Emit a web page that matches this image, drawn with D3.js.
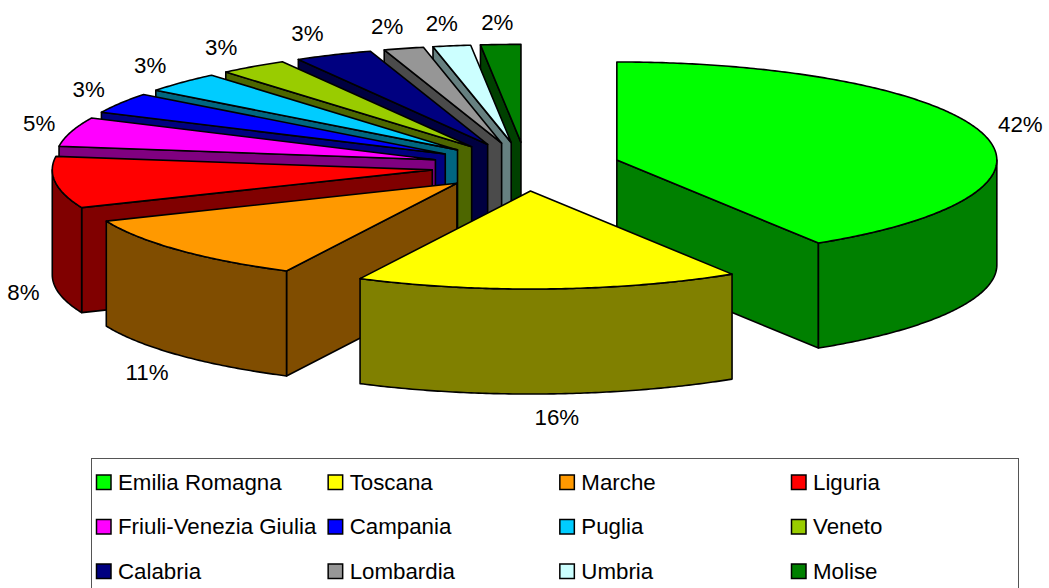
<!DOCTYPE html>
<html>
<head>
<meta charset="utf-8">
<script src="https://cdn.jsdelivr.net/npm/d3@7"></script>
<style>
html,body{margin:0;padding:0;background:#fff;overflow:hidden}
svg{display:block}
text{font-family:"Liberation Sans",Arial,sans-serif;fill:#000}
</style>
</head>
<body>
<svg id="chart" width="1049" height="588"></svg>
<script>
const regions = ["Emilia Romagna","Toscana","Marche","Liguria","Friuli-Venezia Giulia","Campania","Puglia","Veneto","Calabria","Lombardia","Umbria","Molise"];
const shares = [41.1,16.3,11.3,8.5,4.8,3.4,3.4,2.9,3.3,1.7,1.6,1.7];
const shareLabels = ["42%","16%","11%","8%","5%","3%","3%","3%","3%","2%","2%","2%"];
const topColors = ["#00ff00","#ffff00","#ff9900","#ff0000","#ff00ff","#0000ff","#00ccff","#99cc00","#000080","#969696","#ccffff","#008000"];

const W = 1049, H = 588;
const cx = 526, cy = 166.7, radiusX = 380, radiusY = 98, depth = 105, explode = 0.2487;
const svg = d3.select("#chart");
const sx = d3.scaleLinear().domain([-1,1]).range([cx-radiusX, cx+radiusX]);
const sy = d3.scaleLinear().domain([-1,1]).range([cy-radiusY, cy+radiusY]);
const line = d3.line();

const arcs = d3.pie().sort(null).value(d=>d)(shares).map((p,i)=>{
  const mid = (p.startAngle+p.endAngle)/2;
  const ax = explode*Math.sin(mid), ay = -explode*Math.cos(mid);
  return {i, a0:p.startAngle, a1:p.endAngle, mid, ax, ay};
});
const pt = (s,a,dz=0)=>[sx(s.ax+Math.sin(a)), sy(s.ay-Math.cos(a))+dz];
const apex = (s,dz=0)=>[sx(s.ax), sy(s.ay)+dz];
const arcPts = (s,a0,a1,dz=0)=>{
  const n = Math.max(2,Math.ceil((a1-a0)/0.01));
  return d3.range(n+1).map(k=>pt(s,a0+(a1-a0)*k/n,dz));
};
const dark = c=>{const r=d3.rgb(c);return d3.rgb(r.r/2,r.g/2,r.b/2).formatHex();};

const pieG = svg.append("g").attr("stroke","#000").attr("stroke-width",1.6).attr("stroke-linejoin","round");
const order = arcs.slice().sort((p,q)=>Math.cos(q.mid)-Math.cos(p.mid));
order.forEach(s=>{
  const wall = dark(topColors[s.i]);
  const radial = a=>{
    pieG.append("path").attr("fill",wall)
      .attr("d",line([apex(s),pt(s,a),pt(s,a,depth),apex(s,depth)])+"Z");
  };
  if(Math.sin(s.a0)<0) radial(s.a0);
  if(Math.sin(s.a1)>0) radial(s.a1);
  const o0 = Math.max(s.a0,Math.PI/2), o1 = Math.min(s.a1,Math.PI*1.5);
  if(o1>o0){
    const pts = arcPts(s,o0,o1).concat(arcPts(s,o0,o1,depth).reverse());
    pieG.append("path").attr("fill",wall).attr("d",line(pts)+"Z");
  }
  pieG.append("path").attr("fill",topColors[s.i])
    .attr("d",line([apex(s)].concat(arcPts(s,s.a0,s.a1)))+"Z");
});

const labelG = svg.append("g").attr("font-size",22.3).attr("text-anchor","middle");
arcs.forEach(s=>{
  const p = pt(s,s.mid,Math.cos(s.mid)<0?depth:0);
  const sn = Math.sin(s.mid), cs = Math.cos(s.mid);
  const dx = sn>0 ? 39*Math.sqrt(sn) : -Math.min(32,64*Math.abs(sn));
  const y = p[1]-23*Math.sign(cs)*Math.pow(Math.abs(cs),0.75);
  labelG.append("text").attr("x",p[0]+dx).attr("y",y+8).text(shareLabels[s.i]);
});

// legend
const legendLeft = 91.5, legendRight = 1018.5, legendTop = 458.5;
svg.append("rect").attr("x",legendLeft).attr("y",legendTop)
  .attr("width",legendRight-legendLeft).attr("height",H+20-legendTop)
  .attr("fill","none").attr("stroke","#555").attr("stroke-width",1);
const colX = d3.scaleLinear().domain([0,3]).range([96.5,791.5]);
const rowY = d3.scaleLinear().domain([0,2]).range([482,571]);
const legG = svg.append("g");
regions.forEach((r,i)=>{
  const col = i%4, row = Math.floor(i/4);
  legG.append("rect").attr("x",colX(col)).attr("y",rowY(row)-7)
    .attr("width",14.5).attr("height",14.5)
    .attr("fill",topColors[i]).attr("stroke","#000").attr("stroke-width",1.5);
  legG.append("text").attr("x",colX(col)+21.5).attr("y",rowY(row)+7.5)
    .attr("font-size",22.3).text(r);
});
</script>
</body>
</html>
